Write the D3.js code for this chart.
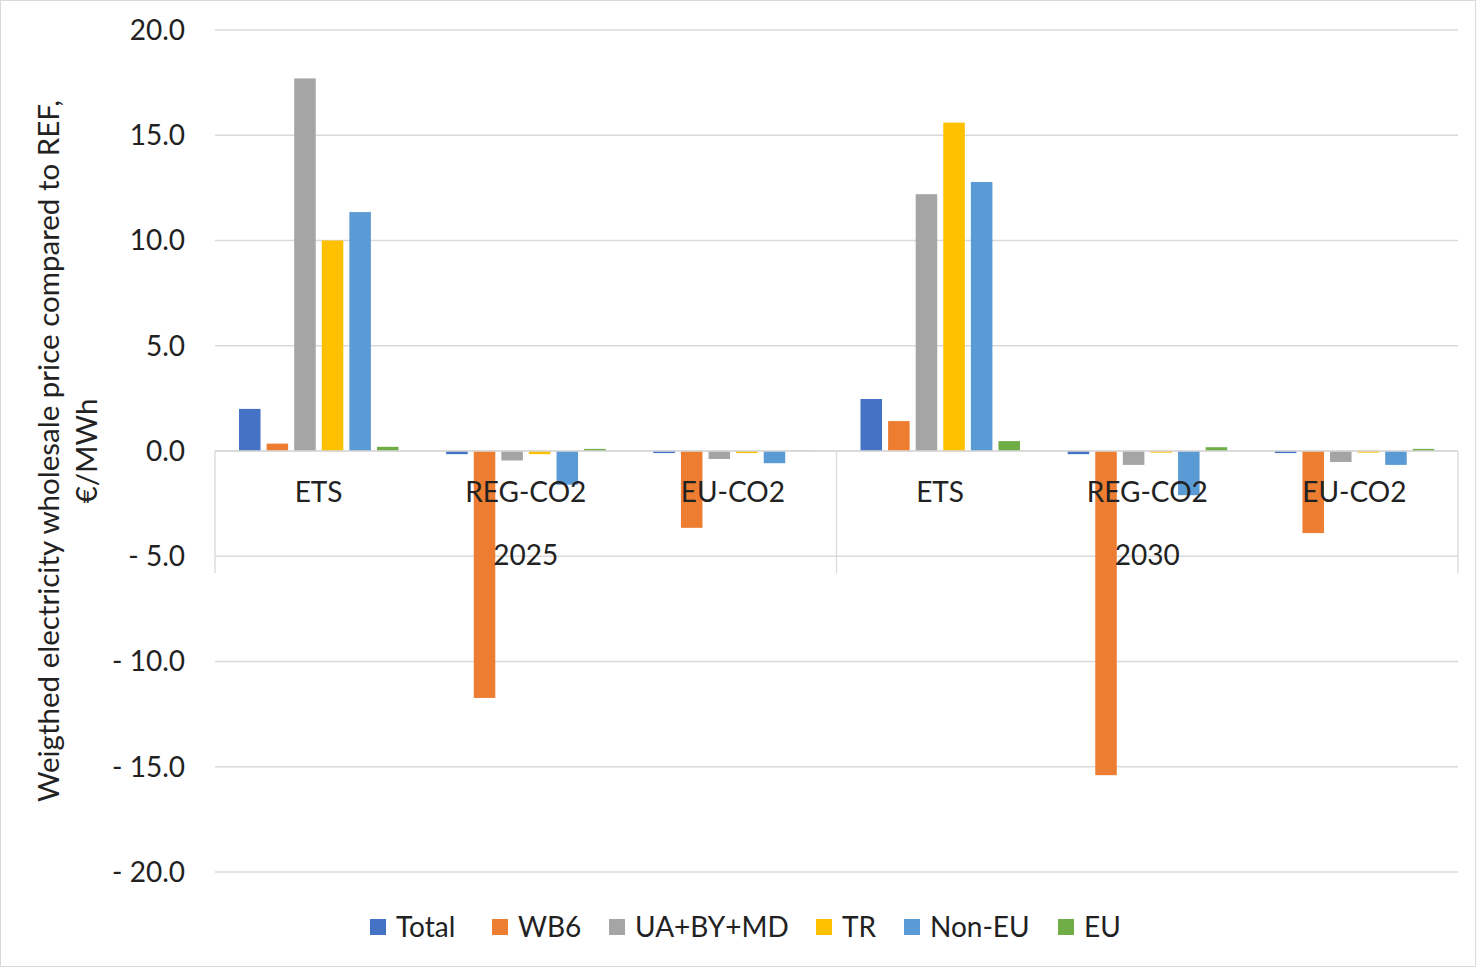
<!DOCTYPE html>
<html><head><meta charset="utf-8">
<script src="https://cdn.jsdelivr.net/npm/d3@7"></script>
<style>body{margin:0;background:#fff;} svg{display:block;font-family:Lato,"Open Sans",sans-serif;}</style>
</head><body>
<svg id="c" width="1476" height="967"></svg>
<script>
const groups = ["2025", "2030"];
const scenarios = ["ETS", "REG-CO2", "EU-CO2"];
const series = ["Total", "WB6", "UA+BY+MD", "TR", "Non-EU", "EU"];
const colors = ["#4472C4", "#ED7D31", "#A5A5A5", "#FFC000", "#5B9BD5", "#70AD47"];
// values per category (group/scenario), order of series
const total   = [2.0, -0.15, -0.1, 2.47, -0.15, -0.1];
const wb6     = [0.35, -11.73, -3.65, 1.42, -15.4, -3.9];
const uabymd  = [17.7, -0.45, -0.38, 12.2, -0.66, -0.52];
const tr      = [10.0, -0.15, -0.1, 15.6, -0.08, -0.08];
const nonEu   = [11.35, -1.6, -0.58, 12.78, -2.1, -0.66];
const eu      = [0.2, 0.1, 0.02, 0.47, 0.18, 0.1];
const yTicks = [20, 15, 10, 5, 0, -5, -10, -15, -20];

const seriesVals = [total, wb6, uabymd, tr, nonEu, eu];
const cats = [];
groups.forEach(g => scenarios.forEach(s => cats.push(g + "|" + s)));

const svg = d3.select("#c");
svg.append("rect").attr("x",0.5).attr("y",0.5).attr("width",1475).attr("height",966)
  .attr("fill","#fff").attr("stroke","#d9d9d9");

const FS = 28;
const L = 215, R = 1458, T = 30, B = 872;
const y = d3.scaleLinear().domain([-20, 20]).range([B, T]);
const x0 = d3.scaleBand().domain(cats).range([L, R]).paddingInner(0).paddingOuter(0);
const x1 = d3.scaleBand().domain(series).range([24, 183.5]).paddingInner(0.22).paddingOuter(0);

// gridlines
svg.append("g").selectAll("line").data(yTicks).join("line")
  .attr("x1", L).attr("x2", R).attr("y1", d => y(d)).attr("y2", d => y(d))
  .attr("stroke", "#d9d9d9").attr("stroke-width", 1.3);

// y labels
const fmt = d => d < 0 ? "- " + d3.format(".1f")(-d) : d3.format(".1f")(d);
svg.append("g").selectAll("text").data(yTicks).join("text")
  .attr("x", 185).attr("y", d => y(d)).attr("dy", "0.35em").attr("text-anchor", "end")
  .attr("font-size", FS).attr("fill", "#222").text(fmt);

// bars
const bars = [];
cats.forEach((c, ci) => series.forEach((s, si) => bars.push({c, s, v: seriesVals[si][ci], col: colors[si]})));
svg.append("g").selectAll("rect").data(bars).join("rect")
  .attr("x", d => x0(d.c) + x1(d.s)).attr("width", x1.bandwidth())
  .attr("y", d => y(Math.max(0, d.v))).attr("height", d => Math.abs(y(d.v) - y(0)))
  .attr("fill", d => d.col);

// zero axis and group separators
svg.append("line").attr("x1", L).attr("x2", R).attr("y1", y(0)).attr("y2", y(0))
  .attr("stroke", "#d9d9d9").attr("stroke-width", 1.3);
const sepX = [L, x0(cats[3]), R];
svg.append("g").selectAll("line").data(sepX).join("line")
  .attr("x1", d => d).attr("x2", d => d).attr("y1", y(0)).attr("y2", 573)
  .attr("stroke", "#d9d9d9").attr("stroke-width", 1.3);

// category labels
svg.append("g").selectAll("text").data(cats).join("text")
  .attr("x", d => x0(d) + x0.bandwidth() / 2).attr("y", 492).attr("dy", "0.35em")
  .attr("text-anchor", "middle").attr("font-size", FS).attr("fill", "#222")
  .text(d => d.split("|")[1]);
// group labels
svg.append("g").selectAll("text").data(groups).join("text")
  .attr("x", (g, i) => (sepX[i] + sepX[i + 1]) / 2).attr("y", 555).attr("dy", "0.35em")
  .attr("text-anchor", "middle").attr("font-size", FS).attr("fill", "#222").text(d => d);

// y title
const yt = svg.append("text").attr("transform", "translate(59,451) rotate(-90)")
  .attr("text-anchor", "middle").attr("font-size", 29.5).attr("fill", "#222");
yt.append("tspan").attr("x", 0).attr("dy", 0).text("Weigthed electricity wholesale price compared to REF,");
yt.append("tspan").attr("x", 0).attr("dy", 38).text("€/MWh");

// legend
const legX = [370, 492, 609, 816, 904, 1058];
const lg = svg.append("g").selectAll("g").data(series).join("g")
  .attr("transform", (d, i) => `translate(${legX[i]},927)`);
lg.append("rect").attr("x", 0).attr("y", -8).attr("width", 16).attr("height", 16)
  .attr("fill", (d, i) => colors[i]);
lg.append("text").attr("x", 26).attr("y", 0).attr("dy", "0.35em").attr("font-size", FS)
  .attr("fill", "#222").text(d => d);
</script>
</body></html>
